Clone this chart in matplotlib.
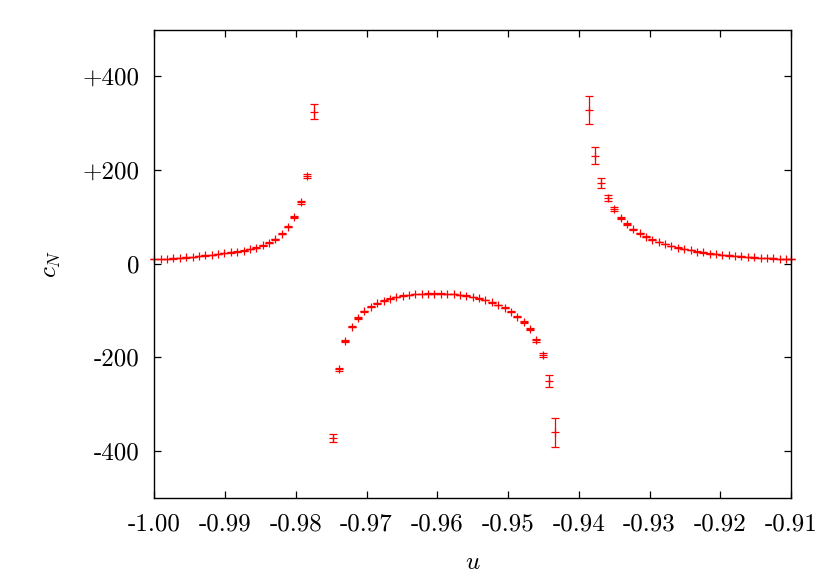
"""c_N en funcion de u, con barras de error (estilo gnuplot/epslatex)."""

import matplotlib
matplotlib.use("Agg")
import matplotlib.pyplot as plt
import numpy as np

# rama izquierda (u < primer polo)
u_left = [-1.0000, -0.9991, -0.9982, -0.9973, -0.9964, -0.9955, -0.9946, -0.9937,
          -0.9928, -0.9919, -0.9910, -0.9901, -0.9892, -0.9883, -0.9874, -0.9865,
          -0.9856, -0.9847, -0.9838, -0.9829, -0.9820, -0.9811, -0.9802, -0.9793,
          -0.9784, -0.9775]
c_left = [9.5, 9.9, 10.6, 11.3, 12.0, 13.5, 14.9, 16.3, 17.7, 19.1, 20.5, 22.7,
          24.1, 26.2, 28.3, 31.1, 34.7, 39.6, 45.3, 52.4, 64.4, 79.3, 100.5, 131.0,
          187.6, 325.0]
e_left = [0.3, 0.3, 0.3, 0.3, 0.3, 0.3, 0.3, 0.3, 0.3, 0.3, 0.3, 0.3, 0.3, 0.4,
          0.4, 0.4, 0.5, 0.6, 0.7, 0.8, 1.0, 1.5, 2.0, 3.0, 5.0, 16.0]

# rama central (negativa)
u_mid = [-0.9748, -0.9739, -0.9730, -0.9721, -0.9712, -0.9703, -0.9694, -0.9685,
         -0.9676, -0.9667, -0.9658, -0.9649, -0.9640, -0.9631, -0.9622, -0.9613,
         -0.9604, -0.9595, -0.9586, -0.9577, -0.9568, -0.9559, -0.9550, -0.9541,
         -0.9532, -0.9523, -0.9514, -0.9505, -0.9496, -0.9487, -0.9478, -0.9469,
         -0.9460, -0.9451, -0.9442, -0.9433]
c_mid = [-371.7, -225.0, -165.0, -134.5, -115.4, -101.2, -92.0, -84.3, -78.6,
         -74.3, -70.8, -68.0, -66.5, -65.1, -64.4, -63.7, -63.7, -63.7, -64.4,
         -65.1, -66.5, -68.0, -70.8, -73.6, -77.2, -82.1, -87.8, -94.1, -102.0,
         -113.3, -124.6, -140.2, -163.6, -194.7, -249.9, -359.6]
e_mid = [8.0, 3.0, 2.0, 1.5, 1.5, 1.0, 0.8, 0.7, 0.6, 0.6, 0.5, 0.5, 0.5, 0.5,
         0.5, 0.5, 0.5, 0.5, 0.5, 0.5, 0.5, 0.5, 0.5, 0.6, 0.6, 0.7, 0.8, 0.9,
         1.0, 1.0, 1.5, 2.0, 2.5, 4.0, 13.0, 31.0]

# rama derecha (u > segundo polo)
u_right = [-0.9386, -0.9377, -0.9368, -0.9359, -0.9350, -0.9341, -0.9332, -0.9323,
           -0.9314, -0.9305, -0.9296, -0.9287, -0.9278, -0.9269, -0.9260, -0.9251,
           -0.9242, -0.9233, -0.9224, -0.9215, -0.9206, -0.9197, -0.9188, -0.9179,
           -0.9170, -0.9161, -0.9152, -0.9143, -0.9134, -0.9125, -0.9116, -0.9107,
           -0.9100]
c_right = [328.5, 230.8, 172.8, 139.5, 116.8, 97.7, 85.0, 73.6, 65.1, 58.1, 51.7,
           46.7, 42.5, 38.2, 34.7, 31.9, 29.0, 26.2, 24.1, 21.9, 20.5, 19.1, 17.7,
           16.3, 15.6, 14.2, 13.5, 12.7, 12.0, 11.3, 10.6, 9.9, 9.5]
e_right = [30.0, 18.0, 10.5, 6.5, 4.0, 2.5, 2.0, 1.5, 1.0, 0.8, 0.7, 0.6, 0.5,
           0.5, 0.5, 0.4, 0.4, 0.4, 0.3, 0.3, 0.3, 0.3, 0.3, 0.3, 0.3, 0.3, 0.3,
           0.3, 0.3, 0.3, 0.3, 0.3, 0.3]

x_ticks = [-1.00, -0.99, -0.98, -0.97, -0.96, -0.95, -0.94, -0.93, -0.92, -0.91]
x_labels = ["-1.00", "-0.99", "-0.98", "-0.97", "-0.96", "-0.95", "-0.94",
            "-0.93", "-0.92", "-0.91"]
y_ticks = [-400, -200, 0, 200, 400]
y_labels = ["-400", "-200", "0", "+200", "+400"]

plt.rcParams["font.family"] = "cmr10"
plt.rcParams["mathtext.fontset"] = "cm"
plt.rcParams["axes.unicode_minus"] = False


def main() -> None:
    fig = plt.figure(figsize=(8.3, 5.81), dpi=100)
    ax = fig.add_axes([0.186, 0.143, 0.767, 0.806])

    u = np.concatenate([u_left, u_mid, u_right])
    c = np.concatenate([c_left, c_mid, c_right])
    e = np.concatenate([e_left, e_mid, e_right])

    ax.errorbar(u, c, yerr=e, fmt="+", color="#ff0000", ecolor="#ff0000",
                markersize=6, markeredgewidth=0.9, elinewidth=0.9,
                capsize=2.6, capthick=0.9, clip_on=False)

    ax.set_xlim(-1.0, -0.91)
    ax.set_ylim(-500, 500)
    ax.set_xticks(x_ticks)
    ax.set_xticklabels(x_labels)
    ax.set_yticks(y_ticks)
    ax.set_yticklabels(y_labels)
    ax.tick_params(direction="in", length=5, width=0.9, labelsize=18,
                   top=True, right=True)
    ax.tick_params(axis="x", pad=11)
    ax.tick_params(axis="y", pad=11)
    for sp in ax.spines.values():
        sp.set_linewidth(1.0)

    ax.set_xlabel("$u$", fontsize=18, labelpad=12)
    ax.set_ylabel("$c_N$", fontsize=18, labelpad=14)

    fig.savefig("out.png", dpi=100, facecolor="white")


if __name__ == "__main__":
    main()
